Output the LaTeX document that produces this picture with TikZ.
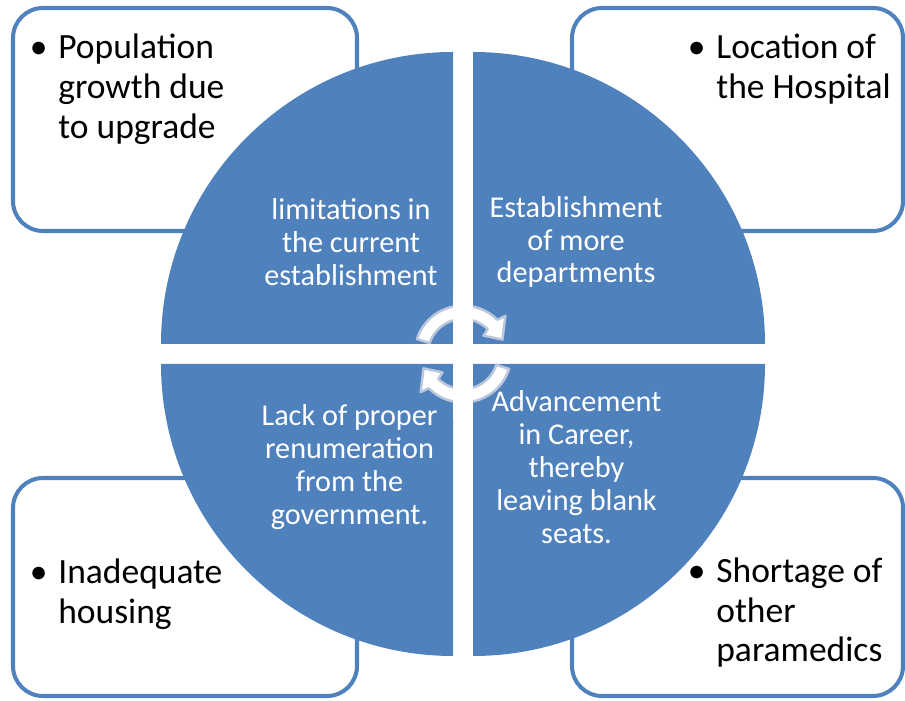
\documentclass[tikz,border=0pt]{standalone}
\usepackage{fontspec}
\setmainfont{Carlito}
\usepackage{tikz}
\definecolor{accent}{RGB}{79,129,189}
\definecolor{rim}{RGB}{186,198,220}
\newcommand{\drawquarter}[3]{
  \fill[accent] (#1,#2)--++(#3:5.84) arc[start angle=#3, end angle=#3+90, radius=5.84]--cycle;
}
\newcommand{\turnarrow}{
  \draw[fill=white, draw=rim, line width=1.4pt, line join=round]
    (162:0.97) arc[start angle=162, end angle=45, radius=0.97]--(42:1.14)--(20:0.84)
    --(42:0.55)--(45:0.70) arc[start angle=45, end angle=162, radius=0.70]--cycle;
}
\tikzset{
  sidebox/.style={draw=accent, line width=2.3pt, rounded corners=0.6cm},
  itemtext/.style={inner sep=0pt, font=\fontsize{20.2}{22.6}\selectfont},
  quartertext/.style={text=white, align=center, inner sep=0pt, font=\fontsize{17.2}{18.7}\selectfont}
}

\begin{document}
\begin{tikzpicture}
\useasboundingbox (0,0) rectangle (18.1,14);
\draw[sidebox] (0.26,9.38) rectangle (7.14,13.84);
\draw[sidebox] (11.44,9.38) rectangle (18.06,13.84);
\draw[sidebox] (0.26,0.08) rectangle (7.14,4.44);
\draw[sidebox] (11.44,0.08) rectangle (18.06,4.44);

\node[itemtext, anchor=base west] (poptext) at (1.16,12.82) {\begin{tabular}[t]{@{}l@{}}Population\\growth due\\to upgrade\end{tabular}};
\node[itemtext, anchor=base west] (loctext) at (14.32,12.82) {\begin{tabular}[t]{@{}l@{}}Location of\\the Hospital\end{tabular}};
\node[itemtext, anchor=base west] (housetext) at (1.16,2.33) {\begin{tabular}[t]{@{}l@{}}Inadequate\\housing\end{tabular}};
\node[itemtext, anchor=base west] (shorttext) at (14.32,2.35) {\begin{tabular}[t]{@{}l@{}}Shortage of\\other\\paramedics\end{tabular}};
\foreach \t in {poptext,loctext,housetext,shorttext}
  \node[itemtext, anchor=base east] (\t-dot) at ([xshift=-0.2cm]\t.base west) {\textbullet};

% white rim keeps the box lines off the disc
\fill[white] (9.26,6.92) circle (5.92);
\drawquarter{9.06}{7.12}{90}
\drawquarter{9.46}{7.12}{0}
\drawquarter{9.06}{6.72}{180}
\drawquarter{9.46}{6.72}{270}

\node[quartertext] (limits) at (7.02,9.16) {limitations in\\the current\\establishment};
\node[quartertext] (depts) at (11.52,9.16) {Establishment\\of more\\departments};
\node[quartertext] (pay) at (6.99,4.66) {Lack of proper\\renumeration\\from the\\government.};
\node[quartertext] (career) at (11.53,4.66) {Advancement\\in Career,\\thereby\\leaving blank\\seats.};

\coordinate (hub) at (9.26,6.92);
\begin{scope}[shift={(hub)}]
  \turnarrow
\end{scope}
\begin{scope}[shift={(hub)}, rotate=180]
  \turnarrow
\end{scope}
\fill[white] (9.06,5.6) rectangle (9.46,8.2);
\end{tikzpicture}
\end{document}
